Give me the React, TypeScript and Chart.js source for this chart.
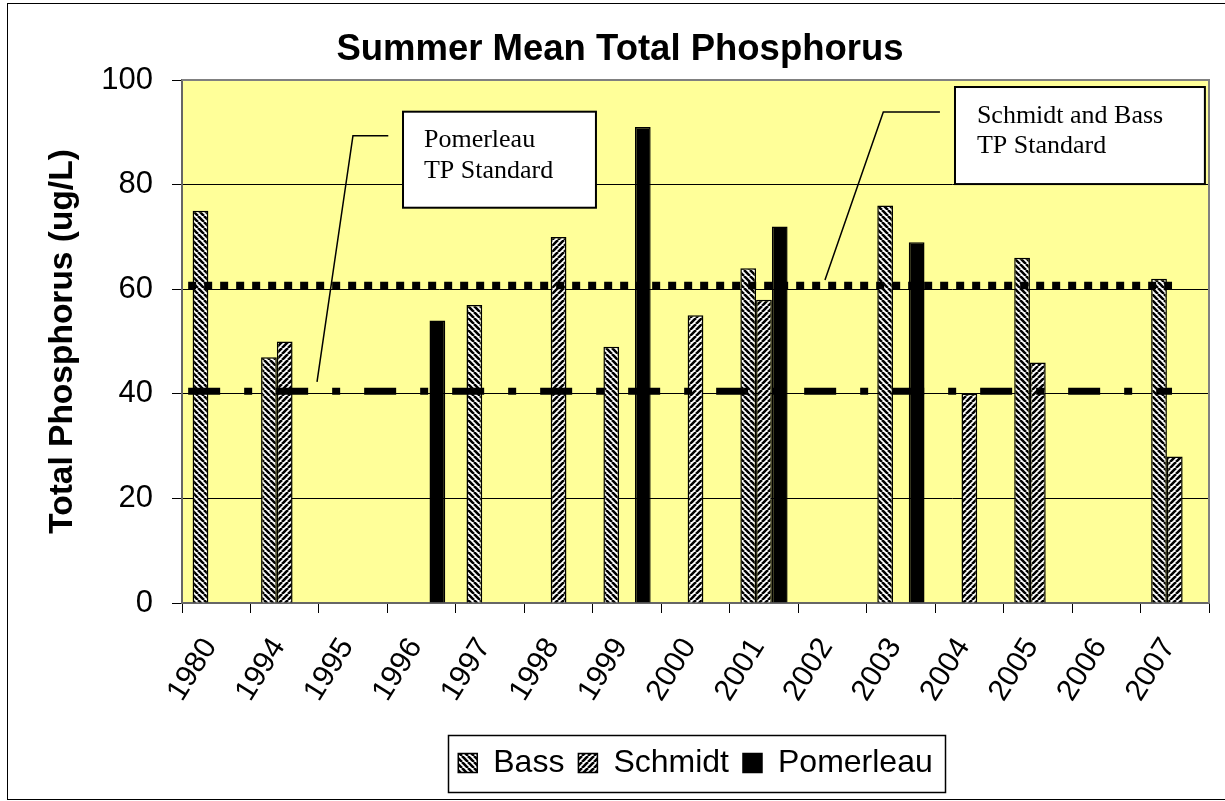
import React, { useEffect, useRef } from 'react';
import { Chart, registerables } from 'chart.js';

Chart.register(...registerables);

// ---------- data ----------
const YEARS = ['1980', '1994', '1995', '1996', '1997', '1998', '1999', '2000', '2001', '2002', '2003', '2004', '2005', '2006', '2007'];
const BASS = [75, 47, null, null, 57, null, 49, null, 64, null, 76, null, 66, null, 62];
const SCHMIDT = [null, 50, null, null, null, 70, null, 55, 58, null, null, 40, 46, null, 28];
const POMERLEAU = [null, null, null, 54, null, null, 91, null, 72, null, 69, null, null, null, null];
const SERIES_NAMES = ['Bass', 'Schmidt', 'Pomerleau'];
const Y_MIN = 0;
const Y_MAX = 100;
const Y_STEP = 20;
// standards: [Schmidt and Bass, Pomerleau]
const STANDARD_VALUES = [60.7, 40.5];
const TITLE = 'Summer Mean Total Phosphorus';
const Y_TITLE = 'Total Phosphorus (ug/L)';
const NOTE_TEXTS = [
  ['Pomerleau', 'TP Standard'],
  ['Schmidt and Bass', 'TP Standard'],
];

// ---------- annotation geometry (category units / value units) ----------
const STD_SPAN = [-0.41, 13.96];
const NOTES = [
  { box: [2.728, 93.94, 5.546, 75.58], textX: 3.034, baselines: [87.25, 81.2], leader: [[2.513, 89.35], [1.997, 89.35], [1.472, 42.26]] },
  { box: [10.79, 98.66, 14.44, 80.1], textX: 11.11, baselines: [91.7, 86.0], leader: [[10.57, 93.88], [9.743, 93.88], [8.891, 61.76]] },
];

function makeHatch(down: boolean): CanvasPattern | string {
  const s = 6;
  const c = document.createElement('canvas');
  c.width = s;
  c.height = s;
  const g = c.getContext('2d');
  if (!g) return '#888';
  g.fillStyle = '#fff';
  g.fillRect(0, 0, s, s);
  g.strokeStyle = '#000';
  g.lineWidth = 2.6;
  g.beginPath();
  for (let k = -1; k <= 1; k++) {
    if (down) {
      g.moveTo(k * s, 0);
      g.lineTo(k * s + s, s);
    } else {
      g.moveTo(k * s, s);
      g.lineTo(k * s + s, 0);
    }
  }
  g.stroke();
  return g.createPattern(c, 'repeat') || '#888';
}

const decorPlugin = {
  id: 'decor',
  beforeDraw(chart: any) {
    const { ctx, width, height, chartArea: a } = chart;
    ctx.save();
    ctx.fillStyle = '#fff';
    ctx.fillRect(0, 0, width, height);
    ctx.strokeStyle = '#000';
    ctx.lineWidth = 1;
    ctx.strokeRect(7.5, 3.5, width - 4, height - 5);
    ctx.fillStyle = '#FFFF99';
    ctx.fillRect(a.left, a.top, a.right - a.left, a.bottom - a.top);
    ctx.restore();
  },
  beforeDatasetsDraw(chart: any) {
    const { ctx, chartArea: a } = chart;
    ctx.save();
    ctx.strokeStyle = '#808080';
    ctx.lineWidth = 2;
    ctx.beginPath();
    ctx.moveTo(a.left, a.top);
    ctx.lineTo(a.right, a.top);
    ctx.lineTo(a.right, a.bottom);
    ctx.stroke();
    ctx.restore();
  },
  afterDatasetsDraw(chart: any) {
    const { ctx } = chart;
    const xs = chart.scales.x;
    const ys = chart.scales.y;
    const X = (u: number) => xs.getPixelForValue(u);
    const Y = (v: number) => ys.getPixelForValue(v);
    ctx.save();
    ctx.strokeStyle = '#000';
    ctx.lineCap = 'butt';
    // Schmidt & Bass standard: square dots
    ctx.lineWidth = 7.5;
    ctx.setLineDash([8, 8]);
    ctx.beginPath();
    ctx.moveTo(X(STD_SPAN[0]), Y(STANDARD_VALUES[0]));
    ctx.lineTo(X(STD_SPAN[1]), Y(STANDARD_VALUES[0]));
    ctx.stroke();
    // Pomerleau standard: dash-dot
    ctx.lineWidth = 7;
    ctx.setLineDash([32, 24, 8, 24]);
    ctx.beginPath();
    ctx.moveTo(X(STD_SPAN[0]), Y(STANDARD_VALUES[1]));
    ctx.lineTo(X(STD_SPAN[1]), Y(STANDARD_VALUES[1]));
    ctx.stroke();
    ctx.setLineDash([]);

    NOTES.forEach((n, i) => {
      ctx.lineWidth = 1.5;
      ctx.strokeStyle = '#000';
      ctx.beginPath();
      n.leader.forEach((p, j) => {
        if (j === 0) ctx.moveTo(X(p[0]), Y(p[1]));
        else ctx.lineTo(X(p[0]), Y(p[1]));
      });
      ctx.stroke();
      const x0 = X(n.box[0]);
      const y0 = Y(n.box[1]);
      const x1 = X(n.box[2]);
      const y1 = Y(n.box[3]);
      ctx.fillStyle = '#fff';
      ctx.fillRect(x0, y0, x1 - x0, y1 - y0);
      ctx.lineWidth = 2;
      ctx.strokeRect(x0, y0, x1 - x0, y1 - y0);
      ctx.fillStyle = '#000';
      ctx.font = "26px 'Liberation Serif', 'Times New Roman', serif";
      ctx.textAlign = 'left';
      ctx.textBaseline = 'alphabetic';
      NOTE_TEXTS[i].forEach((t, k) => {
        ctx.fillText(t, X(n.textX), Y(n.baselines[k]));
      });
    });
    ctx.restore();
  },
  afterDraw(chart: any) {
    const lg = chart.legend;
    if (!lg || !lg.legendHitBoxes || !lg.legendHitBoxes.length) return;
    const hb = lg.legendHitBoxes;
    const first = hb[0];
    const last = hb[hb.length - 1];
    const cy = first.top + first.height / 2;
    const { ctx } = chart;
    ctx.save();
    ctx.strokeStyle = '#000';
    ctx.lineWidth = 1.5;
    const l = Math.round(first.left - 10) + 0.5;
    const r = Math.round(last.left + last.width + 12) + 0.5;
    ctx.strokeRect(l, Math.round(cy - 28) + 0.5, r - l, 57);
    ctx.restore();
  },
};

export default function App() {
  const ref = useRef<HTMLCanvasElement | null>(null);
  useEffect(() => {
    const el = ref.current;
    if (!el) return;
    document.body.style.margin = '0';
    Chart.defaults.font.family = "'Liberation Sans', Arial, sans-serif";
    Chart.defaults.color = '#000';
    const hatchBass = makeHatch(true);
    const hatchSchmidt = makeHatch(false);
    const chart = new Chart(el, {
      type: 'bar',
      data: {
        labels: YEARS,
        datasets: [
          { label: SERIES_NAMES[0], data: BASS, backgroundColor: hatchBass as any, borderColor: '#000', borderWidth: 1.5 },
          { label: SERIES_NAMES[1], data: SCHMIDT, backgroundColor: hatchSchmidt as any, borderColor: '#000', borderWidth: 1.5 },
          { label: SERIES_NAMES[2], data: POMERLEAU, backgroundColor: '#000', borderColor: '#000', borderWidth: 1.5 },
        ],
      },
      options: {
        responsive: false,
        animation: false,
        layout: { padding: { left: 31, right: 31, top: 0, bottom: 12 } },
        datasets: { bar: { categoryPercentage: 0.69, barPercentage: 1 } },
        plugins: {
          title: {
            display: true,
            text: TITLE,
            color: '#000',
            font: { size: 36.5, weight: 'bold' },
            padding: { top: 28.5, bottom: 7.7 },
          },
          legend: {
            position: 'bottom',
            fullSize: false,
            labels: { font: { size: 32 }, boxWidth: 19, boxHeight: 19, padding: 14, color: '#000' },
          },
          tooltip: { enabled: false },
        },
        scales: {
          x: {
            grid: { display: true, drawOnChartArea: false, drawTicks: true, tickLength: 10, color: '#000', offset: true },
            border: { display: true, color: '#666', width: 2 },
            ticks: { font: { size: 30 }, color: '#000', minRotation: 58, maxRotation: 58, autoSkip: false, padding: 19, labelOffset: -6 },
            afterFit: (s: any) => { s.height = 130; },
          },
          y: {
            min: Y_MIN,
            max: Y_MAX,
            ticks: { stepSize: Y_STEP, font: { size: 31 }, color: '#000', padding: 19 },
            grid: { color: '#000', lineWidth: 1, tickLength: 10 },
            border: { display: true, color: '#666', width: 2 },
            title: { display: true, text: Y_TITLE, color: '#000', font: { size: 33.5, weight: 'bold' }, padding: { top: 12, bottom: 0 } },
            afterFit: (s: any) => { s.width = 151; },
          },
        },
      },
      plugins: [decorPlugin],
    } as any);
    return () => chart.destroy();
  }, []);
  return (
    <div style={{ position: 'fixed', left: 0, top: 0, width: 1225, height: 801, overflow: 'hidden', background: '#fff' }}>
      <canvas ref={ref} width={1240} height={801} style={{ display: 'block' }} />
    </div>
  );
}
